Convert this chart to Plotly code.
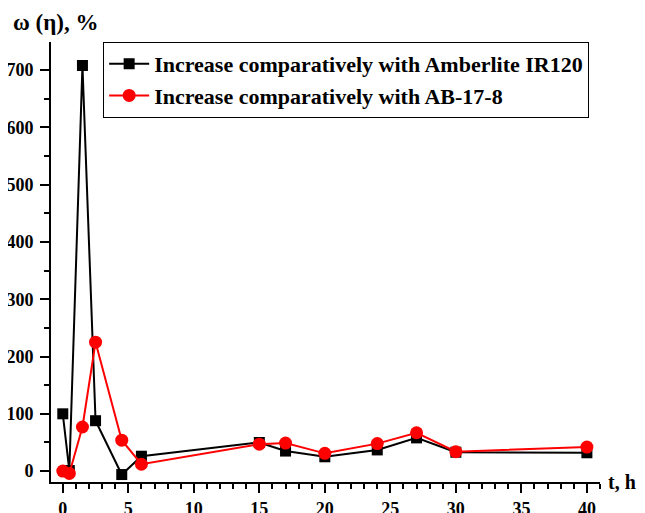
import plotly.graph_objects as go

t_black = [0, 0.5, 1.5, 2.5, 4.5, 6, 15, 17, 20, 24, 27, 30, 40]
w_black = [100, 1, 708, 88, -6, 26, 50, 35, 25, 37, 58, 33, 32]
t_red = [0, 0.5, 1.5, 2.5, 4.5, 6, 15, 17, 20, 24, 27, 30, 40]
w_red = [0, -4, 77, 225, 54, 12, 47, 49, 31, 48, 67, 34, 42]

name_black = "Increase comparatively with Amberlite IR120"
name_red = "Increase comparatively with AB-17-8"
x_ticks = [0, 5, 10, 15, 20, 25, 30, 35, 40]
y_ticks = [0, 100, 200, 300, 400, 500, 600, 700]

FONT = "Liberation Serif"

fig = go.Figure()
fig.add_trace(go.Scatter(x=t_black, y=w_black, mode="lines+markers", name=name_black,
                         line=dict(color="black", width=2),
                         marker=dict(symbol="square", size=11, color="black")))
fig.add_trace(go.Scatter(x=t_red, y=w_red, mode="lines+markers", name=name_red,
                         line=dict(color="red", width=2),
                         marker=dict(symbol="circle", size=13, color="red")))

axis_common = dict(showgrid=False, zeroline=False, showline=True, linecolor="black",
                   linewidth=2, ticks="outside", ticklen=9, tickwidth=2, tickcolor="black",
                   automargin=False,
                   tickfont=dict(family=FONT, size=18, color="black", weight="bold"))
fig.update_xaxes(range=[-0.9, 41.0], tickvals=x_ticks, ticklabelstandoff=0,
                 minor=dict(dtick=1, ticks="outside", ticklen=5, tickwidth=2, tickcolor="black"),
                 **axis_common)
fig.update_yaxes(range=[-19, 749], tickvals=y_ticks, ticklabelstandoff=3,
                 minor=dict(dtick=50, ticks="outside", ticklen=5, tickwidth=2, tickcolor="black"),
                 **axis_common)

fig.update_layout(
    width=645, height=513,
    margin=dict(l=43, r=53, t=34, b=39, autoexpand=False),
    plot_bgcolor="white", paper_bgcolor="white",
    font=dict(family=FONT, color="black"),
    legend=dict(x=0.095, y=1.0, xanchor="left", yanchor="top",
                bordercolor="black", borderwidth=1, bgcolor="white",
                font=dict(family=FONT, size=22, color="black", weight="bold"),
                tracegroupgap=0, itemwidth=40),
    annotations=[
        dict(text="ω (η), %", xref="paper", yref="paper", x=-0.072, y=1.0, yshift=5,
             xanchor="left", yanchor="bottom", showarrow=False,
             font=dict(family=FONT, size=23, color="black", weight="bold")),
        dict(text="t, h", xref="paper", yref="paper", x=1.0, y=0, xshift=7,
             xanchor="left", yanchor="middle", showarrow=False, borderpad=0,
             font=dict(family=FONT, size=20, color="black", weight="bold")),
    ],
)

fig.write_html("out.html")
